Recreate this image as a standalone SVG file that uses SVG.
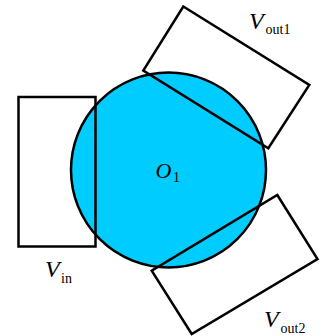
<svg xmlns="http://www.w3.org/2000/svg" width="321" height="336" viewBox="0 0 321 336">
<style>
.ol{fill:none;stroke:#000;stroke-width:2.5;stroke-linejoin:miter}
.t{font-family:"Liberation Serif","Times New Roman",serif;fill:#000}
.v{font-style:italic;font-size:24px}
.s{font-size:14px}
</style>
<rect width="321" height="336" fill="#fff"/>
<g id="O1"><circle cx="168.5" cy="170" r="97.5" fill="#00ccff" stroke="#000" stroke-width="2.5"/>
<text class="t" x="155.5" y="178" style="font-style:italic;font-size:22px">O</text><text class="t" x="173" y="182" style="font-size:14px">1</text></g>
<g id="Vin"><rect x="18.5" y="97" width="77" height="149.5" class="ol"/>
<text class="t v" x="45" y="277">V</text><text class="t s" x="61" y="283">in</text></g>
<g id="Vout1"><polygon points="183.3,6.5 309.3,85 268.3,148.3 143.3,70.5" class="ol"/>
<text class="t v" x="249" y="28.5">V</text><text class="t s" x="265.5" y="34">out1</text></g>
<g id="Vout2"><polygon points="277.3,195 317.5,259 191.7,334 151.7,270.7" class="ol"/>
<text class="t v" x="264" y="327">V</text><text class="t s" x="280.5" y="333">out2</text></g>
<g id="connectors"></g>
</svg>
